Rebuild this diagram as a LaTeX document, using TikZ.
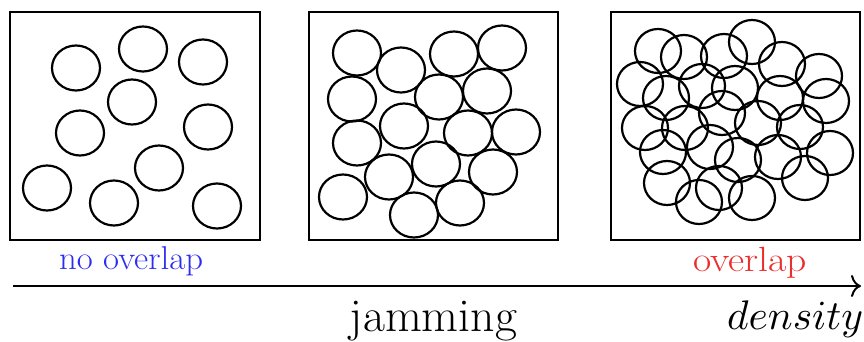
\documentclass[tikz,border=0pt]{standalone}
\usetikzlibrary{arrows.meta}
\definecolor{myblue}{RGB}{45,45,240}
\definecolor{myred}{RGB}{235,45,45}
\tikzset{
  grain/.style={draw=black, line width=2.2pt},
  frame/.style={draw=black, line width=2.5pt},
  lbl/.style={inner sep=0pt, anchor=base},
}
\begin{document}
\begin{tikzpicture}[x=1pt,y=-1pt]
\useasboundingbox (0,0) rectangle (864,342);
% frames
\draw[frame] (10,12) rectangle (260,240);
\draw[frame] (309,12) rectangle (558,240);
\draw[frame] (611,12) rectangle (860,240);
% box 1
\foreach \x/\y in {76/68,143/49,203/62,132/102,80/133,208/127,159/168,47/188,114/203,217/206}
  \draw[grain] (\x,\y) ellipse [x radius=24, y radius=22.5];
% box 2
\foreach \x/\y in {357/53,401/70,454/54,502/48,352/99,439/97,487/91,404/126,468/133,516/132,357/143,389/177,436/164,493/172,343/197,414/215,460/203}
  \draw[grain] (\x,\y) ellipse [x radius=24, y radius=22.5];
% box 3
\foreach \x/\y in {658/51,684/57,724/56,752/42,782/64,819/76,640/84,666/98,702/86,735/88,780/98,826/101,645/128,685/128,722/113,758/123,800/127,830/153,663/152,710/147,738/160,778/157,805/178,667/183,699/202,719/188,752/198}
  \draw[grain] (\x,\y) ellipse [x radius=23, y radius=22];
% labels
\node[lbl, text=myblue] (noov) at (131,269) {\resizebox{144pt}{\height}{\fontsize{33}{36}\selectfont no overlap}};
\node[lbl, text=myred] (ov) at (750,271) {\resizebox{114pt}{\height}{\fontsize{35}{38}\selectfont overlap}};
\coordinate (a0) at (13,286);
\coordinate (a1) at (861,286);
\draw[line width=2pt, -{To[length=10pt,width=22pt]}] (a0) -- (a1);
\node[lbl] (jam) at (433.5,331) {\resizebox{167pt}{\height}{\fontsize{47}{50}\selectfont jamming}};
\node[lbl, anchor=base west] (dens) at (727,329) {\resizebox{136pt}{!}{$density$}};
\end{tikzpicture}
\end{document}
